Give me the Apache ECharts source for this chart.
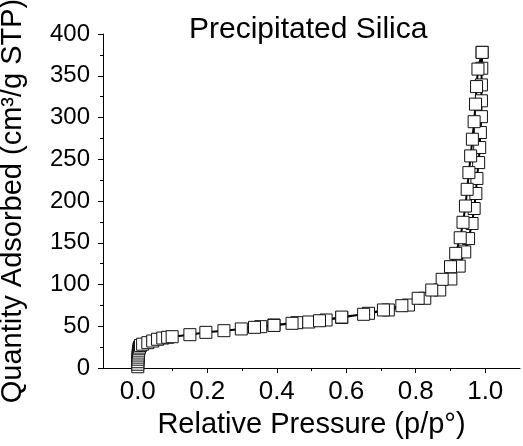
<!DOCTYPE html>
<html>
<head>
<meta charset="utf-8">
<script src="https://cdn.jsdelivr.net/npm/echarts@6/dist/echarts.min.js"></script>
<style>
html,body{margin:0;padding:0;background:#fff;}
#c{width:523px;height:446px;}
</style>
</head>
<body>
<div id="c"></div>
<script>
// Adsorption branch: relative pressure / quantity adsorbed
var adsP = [0.0001,0.0002,0.0003,0.0005,0.0008,0.0012,0.0018,0.0025,0.0035,0.005,0.008,0.014,0.029,0.043,0.057,0.072,0.086,0.099,0.150,0.196,0.248,0.298,0.354,0.392,0.458,0.492,0.542,0.587,0.664,0.721,0.779,0.826,0.869,0.901,0.925,0.941,0.952,0.962,0.968,0.973,0.976,0.981,0.984,0.986,0.989,0.989,0.989,0.990,0.991];
var adsQ = [1.5,4.5,7.5,10.5,13,15.5,18,20.5,23,25,27,28.5,30.3,32.3,34.4,35.9,36.8,37.5,39.9,42.7,44.7,46.8,49.5,51.5,54.3,55.1,57.5,60.5,65.5,69.5,75.4,83.5,93.4,106.6,122,139,155,173,191,209,227,246,264,282,301,320,339,359,378];
// Desorption branch
var desP = [0.991,0.979,0.975,0.972,0.968,0.963,0.958,0.953,0.948,0.943,0.936,0.928,0.915,0.900,0.876,0.846,0.807,0.760,0.707,0.650,0.587,0.523,0.444,0.392,0.336];
var desQ = [378,358,337,316,295,274,254,234,214,194,174.5,156,137.3,121.3,106.2,93.4,83.5,74.6,69.5,64.3,61,56.6,53.5,51,48.7];
// Tick labels
var xMajorTicks = [0.0,0.2,0.4,0.6,0.8,1.0];
var xMinorTicks = [0.1,0.3,0.5,0.7,0.9];
var titleText = 'Precipitated Silica';
var xName = 'Relative Pressure (p/p\u00B0)';
var yName = 'Quantity Adsorbed (cm\u00B3/g STP)';

var pts = [];
for (var i = 0; i < adsP.length; i++) pts.push([adsP[i], adsQ[i]]);
for (var j = 0; j < desP.length; j++) pts.push([desP[j], desQ[j]]);

var FONT = '"Liberation Sans", Arial, sans-serif';
var chart = echarts.init(document.getElementById('c'), null, {renderer: 'canvas'});
chart.setOption({
  animation: false,
  backgroundColor: '#fff',
  title: {
    text: titleText,
    left: 189, top: 15, padding: 0,
    textStyle: {fontFamily: FONT, fontSize: 30, fontWeight: 'normal', color: '#000'}
  },
  grid: {left: 103, right: 3, top: 34, bottom: 78, containLabel: false, outerBoundsMode: 'none'},
  xAxis: [{
    type: 'value', min: -0.1, max: 1.1,
    position: 'bottom',
    name: xName, nameLocation: 'middle', nameGap: 42,
    nameTextStyle: {fontFamily: FONT, fontSize: 29, color: '#000'},
    axisLine: {show: true, onZero: false, lineStyle: {color: '#000', width: 1}},
    axisTick: {show: true, inside: false, length: 5, lineStyle: {color: '#000'}, customValues: xMajorTicks},
    axisLabel: {show: true, margin: 11, fontFamily: FONT, fontSize: 26, color: '#000',
      customValues: xMajorTicks, formatter: function (v) { return v.toFixed(1); }},
    splitLine: {show: false}
  }, {
    type: 'value', min: -0.1, max: 1.1,
    position: 'bottom',
    axisLine: {show: false},
    axisTick: {show: true, inside: false, length: 3, lineStyle: {color: '#000'}, customValues: xMinorTicks},
    axisLabel: {show: false},
    splitLine: {show: false}
  }],
  yAxis: {
    type: 'value', min: 0, max: 400, interval: 50,
    name: yName, nameLocation: 'middle', nameGap: 76,
    nameTextStyle: {fontFamily: FONT, fontSize: 29, color: '#000'},
    axisLine: {show: true, onZero: false, lineStyle: {color: '#000', width: 1}},
    axisTick: {show: true, inside: false, length: 5, lineStyle: {color: '#000'}},
    minorTick: {show: true, splitNumber: 2, length: 3, lineStyle: {color: '#000'}},
    axisLabel: {margin: 13, fontFamily: FONT, fontSize: 24, color: '#000'},
    splitLine: {show: false}
  },
  series: [{
    type: 'line',
    xAxisIndex: 0,
    data: pts,
    symbol: 'rect',
    symbolSize: [12, 12],
    showAllSymbol: true,
    lineStyle: {color: '#000', width: 2},
    itemStyle: {color: '#fff', borderColor: '#111', borderWidth: 1},
    emphasis: {disabled: true},
    z: 3
  }]
});
</script>
</body>
</html>
